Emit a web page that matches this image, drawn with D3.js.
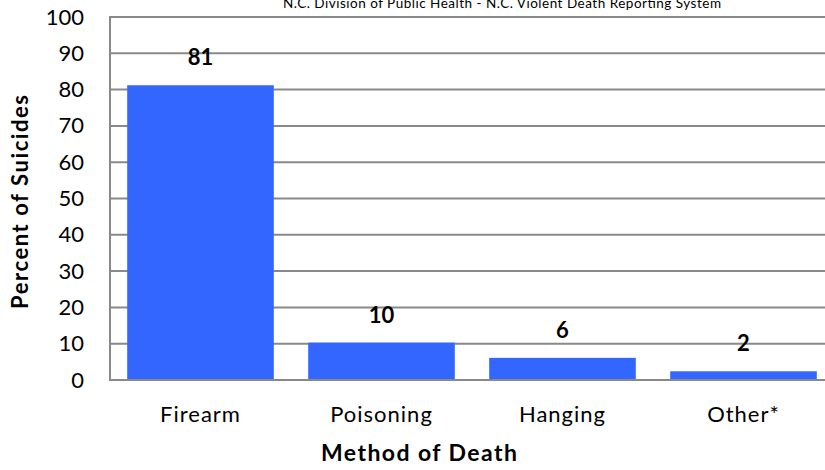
<!DOCTYPE html>
<html>
<head>
<meta charset="utf-8">
<script src="https://cdn.jsdelivr.net/npm/d3@7"></script>
<style>
  html, body { margin: 0; padding: 0; background: #fff; }
  svg { display: block; }
  text { font-family: Lato, "Open Sans", sans-serif; fill: #000; }
</style>
</head>
<body>
<svg id="chart" width="825" height="470"></svg>
<script>
const categories = ["Firearm", "Poisoning", "Hanging", "Other*"];
const values = [81.2, 10.3, 6.1, 2.4];
const valueLabels = ["81", "10", "6", "2"];
const yTicks = [0, 10, 20, 30, 40, 50, 60, 70, 80, 90, 100];
const sourceText = "N.C. Division of Public Health - N.C. Violent Death Reporting System";
const xTitle = "Method of Death";
const yTitle = "Percent of Suicides";

const svg = d3.select("#chart");
const W = 825, H = 470;
const mLeft = 110, mRight = 834, mTop = 17, mBottom = 380;

const x = d3.scaleBand().domain(categories).range([mLeft, mRight])
  .paddingInner(0.19).paddingOuter(0.095);
const y = d3.scaleLinear().domain([0, 100]).range([mBottom, mTop]);

// source text (cut off at top, as in the original)
svg.append("text").attr("x", 502).attr("y", 8).attr("text-anchor", "middle")
  .attr("textLength", 438).attr("lengthAdjust", "spacing")
  .style("font-size", "13.5px").text(sourceText);

// gridlines
svg.append("g").selectAll("line").data(yTicks.filter(d => d > 0)).join("line")
  .attr("x1", mLeft).attr("x2", W).attr("y1", d => y(d)).attr("y2", d => y(d))
  .attr("stroke", "#898989").attr("stroke-width", 2);

// bars
svg.append("g").selectAll("rect").data(values).join("rect")
  .attr("x", (d, i) => x(categories[i]))
  .attr("width", x.bandwidth())
  .attr("y", d => y(d))
  .attr("height", d => y(0) - y(d))
  .attr("fill", "#3366FF");

// value labels
svg.append("g").selectAll("text").data(values).join("text")
  .attr("x", (d, i) => x(categories[i]) + x.bandwidth() / 2)
  .attr("y", d => y(d) - 20)
  .attr("text-anchor", "middle")
  .style("font-size", "22px").style("font-weight", "bold")
  .text((d, i) => valueLabels[i]);

// y axis
const yAxis = d3.axisLeft(y).tickValues(yTicks).tickSize(0).tickPadding(26);
const gy = svg.append("g").attr("transform", `translate(${mLeft},0)`).call(yAxis);
gy.select(".domain").remove();
gy.selectAll("text").style("font-size", "22px").style("font-family", "Lato, sans-serif").attr("fill", "#000");
svg.append("line").attr("x1", mLeft).attr("x2", mLeft).attr("y1", mTop - 1).attr("y2", mBottom + 1)
  .attr("stroke", "#898989").attr("stroke-width", 2);

// x axis
const xAxis = d3.axisBottom(x).tickSize(0).tickPadding(26);
const gx = svg.append("g").attr("transform", `translate(0,${mBottom})`).call(xAxis);
gx.select(".domain").remove();
gx.selectAll("text").style("font-size", "22px").style("font-family", "Lato, sans-serif")
  .style("letter-spacing", "1px").attr("fill", "#000");
svg.append("line").attr("x1", mLeft - 1).attr("x2", W).attr("y1", mBottom).attr("y2", mBottom)
  .attr("stroke", "#898989").attr("stroke-width", 2);

// titles
svg.append("text").attr("x", 419).attr("y", 461).attr("text-anchor", "middle")
  .attr("textLength", 196).attr("lengthAdjust", "spacing")
  .style("font-size", "23px").style("font-weight", "bold").text(xTitle);
svg.append("text").attr("transform", "translate(28,202) rotate(-90)").attr("text-anchor", "middle")
  .attr("textLength", 214).attr("lengthAdjust", "spacing")
  .style("font-size", "22px").style("font-weight", "bold").text(yTitle);
</script>
</body>
</html>
